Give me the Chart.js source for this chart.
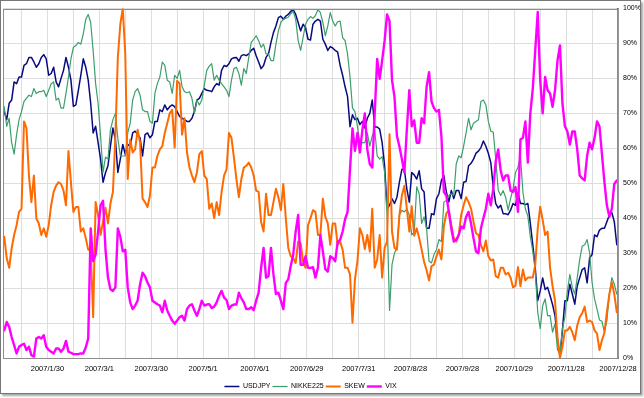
<!DOCTYPE html>
<html>
<head>
<meta charset="utf-8">
<script src="https://cdn.jsdelivr.net/npm/chart.js@4/dist/chart.umd.min.js"></script>
<style>
html,body{margin:0;padding:0;background:#fff;}
#wrap{position:relative;width:644px;height:398px;}
#c{position:absolute;left:0;top:0;}
#frame{position:absolute;left:0;top:0;width:641px;height:394px;box-sizing:border-box;border:1px solid #777;box-shadow:2px 2px 2px rgba(0,0,0,0.35);pointer-events:none;}
</style>
</head>
<body>
<div id="wrap"><canvas id="c" width="644" height="398"></canvas><div id="frame"></div></div>
<script>
const seriesNames = ['USDJPY', 'NIKKE225', 'SKEW', 'VIX'];
const tickLabels = ['2007/1/30','2007/3/1','2007/3/30','2007/5/1','2007/6/1','2007/6/29','2007/7/31','2007/8/28','2007/9/28','2007/10/29','2007/11/28','2007/12/28'];
const yTicks = [0,10,20,30,40,50,60,70,80,90,100];

const usdjpy = [70.5,68.2,72.9,73.8,79,78.5,80.4,80.4,83.7,84.2,86,86,84.7,83.2,84.2,86,86.8,85.6,80.9,81.4,83.2,79,77.6,80,82.3,86,83.2,79.5,72,72.4,76.6,80.9,85.6,83.2,79.5,72.9,64.4,66.3,61.6,56.9,50.3,53,55,60.6,65.8,62.5,53.1,56.9,61.1,58.3,61.1,60.6,64.4,64.9,63.9,63,57.8,63.9,64.4,63,63.9,67.7,67.7,71,70.5,72.4,71,71.9,72.4,71.9,70.5,69.1,68.6,68.2,67.7,67.7,68.6,70.5,73.8,74.3,75.7,77.1,76.6,76.5,76.2,77.6,78.5,78.1,82.3,83.7,83.4,84.2,85.6,85.9,86,84.9,86.5,86.8,86.5,87,88,88.6,86.5,84.7,82.8,83.7,86,87,90.3,93.1,95,97.4,97.8,96.9,97.8,98.3,99.2,99.7,98.3,96,93.6,95.5,94.5,91.2,91,95.5,96.4,96.9,96.4,91.2,89.8,88,89.1,88.7,88,87.5,83.7,80.9,77.6,74.8,66.2,69.6,68.2,68.6,66.8,67.7,65.8,68.6,70,73.8,66.1,66.1,65.5,61.6,55,42.7,43.7,45.6,44.2,46,50.3,54,54,48.4,44.6,53.1,52.4,51.2,53.6,48.4,47.5,37.1,37.1,41.3,41,45.6,47,50.8,52.2,47.5,44.6,47.9,45.6,47.9,47.9,45.6,50.3,50.5,55,55.7,56.9,58.6,59.2,60.2,62.1,60.6,58.6,55.9,48.9,44.2,42.9,43.7,41.3,41.3,41,42.3,44.2,43.7,47.2,44.2,44.2,43.9,44.2,38.5,32.4,25.8,16.4,19.2,22.9,19.6,20.2,17.8,15.3,12.1,5.1,0.6,7.9,16.4,16.4,21.1,18.3,15.4,20.6,23,25.3,25.8,21.5,28.6,29.6,35.2,34.7,36.6,37.1,37.1,39,40.9,41.6,39,32.4];

const nikkei = [71.9,66.3,68.6,61.6,58.3,63.9,68.2,70.5,73.4,74.3,75.2,74.8,77.1,75.7,76.2,76.2,76.6,74.8,76.6,78.5,79,73.8,74.3,71.5,71.5,75.7,80.4,85.6,88.9,89.4,90.3,89.8,92.7,96.9,98.3,96,87.9,78.5,72.9,63.5,53.1,57.5,56.9,65.3,68.2,70,62.7,57.8,57.8,57.8,64.4,67.2,73.8,76.2,77.1,75.2,71,70.5,70.5,67.7,67.2,75.7,78.5,80.4,84.7,83.7,79.5,79,75.7,80.9,80,82.3,77.6,76.2,75.9,76.2,74.3,70,73.8,72.4,73.8,78.1,82.3,83.5,84.2,79.5,80.9,79.5,78.5,77.6,76.6,74.8,79.5,82.8,83.2,81.4,78.1,82.8,81.4,86,90.3,91.2,92.2,90.8,88.9,89.8,87,87,85.1,85.1,89.8,93.6,96,96.9,97.2,97.5,98.5,99.2,96.9,90.8,88,91.7,95.5,96.9,97.7,97.2,98,99.7,98.8,96,92.2,95,98.8,96.4,95,96.2,96.4,91.7,90.8,87,80.4,71.5,70.5,66.3,61.1,61.6,61.6,64.4,60.6,63.5,65.3,57.8,56.9,57.6,53.1,40.9,13.6,26.7,30,31.5,40.9,42.3,41.8,42.7,40.9,35.2,36,49,47,38.5,40.4,37.1,27.7,27.2,29.6,31,33.9,33.3,44.6,45.1,46.5,47,46.5,55.5,57.8,57.3,60.6,64.4,68.6,65.3,67.2,67.7,68.2,73.4,73.8,72.4,67.7,64.9,64.6,56.9,48,46.5,47.9,46,42.3,45.6,48.4,53.1,54.5,57.8,47.5,42.7,40.6,34.7,30.5,24.9,13.1,8.4,15,16.9,12.1,12.1,7.4,9.8,2.3,1.3,8.4,11.7,19.2,23.9,20.2,18.3,23,28.2,32,32.4,33.9,30.1,21.6,16.9,14,10.9,10.5,7.4,10.7,18.3,23,21.1,18.3];

const skew = [34.7,28.6,25.8,31.4,35.2,38,41.8,42.7,67.7,65.8,52.2,44.6,52.2,39.9,38.5,35.2,37.1,34.7,38,43.7,47.5,49.3,50.3,49.8,47.9,43.7,59.2,50.3,41.8,43.2,43.2,36.2,37.1,34.3,31,31,11.7,44.6,40.9,35.2,39,43,38.5,44.2,47.5,63.5,86,95.5,100,87,51.2,62.5,58.8,59.7,65.3,61.6,45.6,44.6,43.2,46.5,54.5,54.5,57.8,59.7,60.6,64.4,67.2,70,71,60.2,79.3,78.5,63.9,68.6,58.8,54.5,52.2,50.3,53.1,58.3,59.2,52.2,51.2,42.7,44.2,40,44.6,40.9,47.5,52.2,54,64.4,63,57.3,51.2,46,51.2,54.5,55,55.9,54.5,52.2,47.9,47.5,39,36.2,47,40.9,40.9,44.6,48.4,46,42.3,49.8,40,31.5,29.1,28.6,27.2,33.3,32.8,27.7,25.8,38,40,42.3,41.8,35.2,35.2,45.6,40.4,38.5,32.4,38.5,38.5,32.4,33.3,31,25.8,25.8,23.9,10.1,22.5,27.7,37.1,35.2,31.2,35.2,30.5,42.7,25.8,28.2,35.2,23,31.5,33.3,64,36.2,31.5,31,40.9,46.5,49.3,42.7,36.2,43.4,35,37.1,34.3,31,27.5,25.1,22.2,26.3,26.7,29.1,31,28.2,37.7,41.4,42.3,38,34.3,33.3,35.2,40.9,43.7,46,44.6,42.7,39,35.7,35.2,32.4,30.5,33.6,29.1,27.9,28.2,23.4,23,25.8,25.8,23.9,24.4,23,20.2,20.7,26,20.6,25.3,22.2,23,23,23,26.7,37.1,43.3,39.5,35.2,36.2,25.8,20.6,16.4,6,0,3.2,7.9,7.9,8.9,7.4,5.1,9.3,11.7,12.8,14.7,10.3,10.7,10.3,7.9,7,2.3,5.1,7.2,13.1,18.3,21.6,18.3,13.1];

const vix = [7.9,10.3,8.9,6,3.7,1.3,3.2,3.7,4.1,2.3,3.2,0.8,0.4,5.6,6,5.6,6.5,3.2,2.3,1.8,1.3,2.7,2.7,1.8,2.7,4.9,1.8,1.5,1.1,1.1,1.1,1.3,1.3,3,5.6,37.1,27.7,29.6,36.2,43.7,45,31,23,19.7,19.2,20.2,37.1,34.7,30.5,31,20.2,15.9,14,15,16.4,21.1,24.4,23.4,21.6,20.2,16.4,15.9,15.4,15,13.1,16.4,13.6,12.1,10.7,9.8,10.7,11.7,12.1,10.7,14,15,15.4,13.6,12.1,14,16.4,15,15.3,15.4,14.3,14.7,15.9,17.8,19.2,17.3,16.6,14,15,15.3,15.3,18.7,17.1,15.9,14,14,14.5,13.7,16.4,18.7,25.8,31.5,23,23.4,31.5,23.9,18.3,18.7,16.4,14,21.5,22.5,26.3,29.6,36.2,40.9,26.7,26.7,29.1,25.8,25.8,26,23,25.8,35.2,30.5,25.4,24.7,29.1,28.6,27.7,33.3,33.8,36.2,39.7,41.8,54,65.7,59.3,64.4,58.8,65.3,70,59.7,55.5,54.5,70,85.6,79.9,85.1,90.8,98.3,96.4,79.5,74.7,63.5,60.5,56.9,53.1,65.3,76.6,66.3,68,61.6,61.6,68.6,67.2,77.6,81.8,73.4,71.5,70.5,71,63.5,47.5,46.5,41.8,37.1,33.3,33.8,35.2,37.6,37.1,40.4,41.8,38.5,34.3,30.5,30,37.1,40,42.7,47,43.7,48.4,56.4,59.7,53.6,50.8,52.2,52.2,47.9,47.5,48.9,41.8,62.5,63,67.7,55.9,70,77.1,88,99,79.5,70,80.4,76.6,75.7,71.9,76.6,85.1,89.4,72.9,66.3,64.8,61.1,64.8,64.8,59.7,52.2,51.4,50.8,57.9,61.6,59.7,63,67.7,66.3,58.3,50.3,43.7,40.4,42.7,49.8,50.8];

const firstLabelIndex = 17;   // trading-day index of 2007/1/30
const labelEvery = 21;        // trading days between labelled dates
const lastIndex = usdjpy.length - 1;

const toPts = arr => arr.map((v, i) => ({x: i, y: v}));

const frameBorder = {
  id: 'frameBorder',
  afterDraw(chart) {
    const a = chart.chartArea, ctx = chart.ctx;
    ctx.save();
    ctx.strokeStyle = '#8c8c8c';
    ctx.lineWidth = 1;
    ctx.strokeRect(Math.round(a.left) + 0.5, Math.round(a.top) + 0.5, Math.round(a.right - a.left) - 1, Math.round(a.bottom - a.top) - 1);
    ctx.restore();
  }
};

const FONT = 'Liberation Sans';

new Chart(document.getElementById('c'), {
  type: 'line',
  data: {
    datasets: [
      {label: seriesNames[0], data: toPts(usdjpy), borderColor: '#0a0a80', backgroundColor: '#0a0a80', borderWidth: 1.5, order: 3},
      {label: seriesNames[1], data: toPts(nikkei), borderColor: '#3c9e6c', backgroundColor: '#3c9e6c', borderWidth: 1.2, order: 2},
      {label: seriesNames[2], data: toPts(skew), borderColor: '#ff6a00', backgroundColor: '#ff6a00', borderWidth: 2, order: 1},
      {label: seriesNames[3], data: toPts(vix), borderColor: '#ff00ff', backgroundColor: '#ff00ff', borderWidth: 2.4, order: 0}
    ]
  },
  options: {
    responsive: false,
    animation: false,
    devicePixelRatio: 1,
    layout: {padding: {left: 3, top: 4, right: 0, bottom: -2}},
    elements: {point: {radius: 0}, line: {tension: 0, borderJoinStyle: 'round', borderCapStyle: 'round'}},
    plugins: {
      tooltip: {enabled: false},
      legend: {
        position: 'bottom',
        fullSize: false,
        labels: {
          usePointStyle: true,
          pointStyle: 'line',
          pointStyleWidth: 15,
          padding: 2,
          color: '#000',
          font: {family: FONT, size: 7},
          sort: (a, b) => a.datasetIndex - b.datasetIndex
        }
      }
    },
    scales: {
      x: {
        type: 'linear',
        min: -0.5,
        max: lastIndex + 0.5,
        afterBuildTicks(scale) {
          const t = [];
          for (let k = 1; k <= 2 * tickLabels.length; k++) {
            t.push({value: firstLabelIndex + 0.5 - labelEvery + labelEvery / 2 * k});
          }
          scale.ticks = t;
        },
        afterFit(scale) { scale.height = 23; },
        ticks: {
          autoSkip: false, maxRotation: 0, minRotation: 0, padding: 6,
          color: '#000', font: {family: FONT, size: 7.5},
          callback: (v, i) => (i % 2 === 1 ? tickLabels[(i - 1) / 2] : '')
        },
        grid: {color: '#dedede', lineWidth: 1, drawTicks: false},
        border: {display: true, color: '#8c8c8c'}
      },
      y: {
        position: 'right',
        min: 0, max: 100,
        afterBuildTicks(scale) { scale.ticks = yTicks.map(v => ({value: v})); },
        afterFit(scale) { scale.width = 26; },
        ticks: {
          padding: 5, color: '#000', font: {family: FONT, size: 7, lineHeight: 1},
          callback: v => v + '%'
        },
        grid: {color: '#dedede', lineWidth: 1, drawTicks: false},
        border: {display: true, color: '#505050', width: 1.5}
      }
    }
  },
  plugins: [frameBorder]
});
</script>
</body>
</html>
